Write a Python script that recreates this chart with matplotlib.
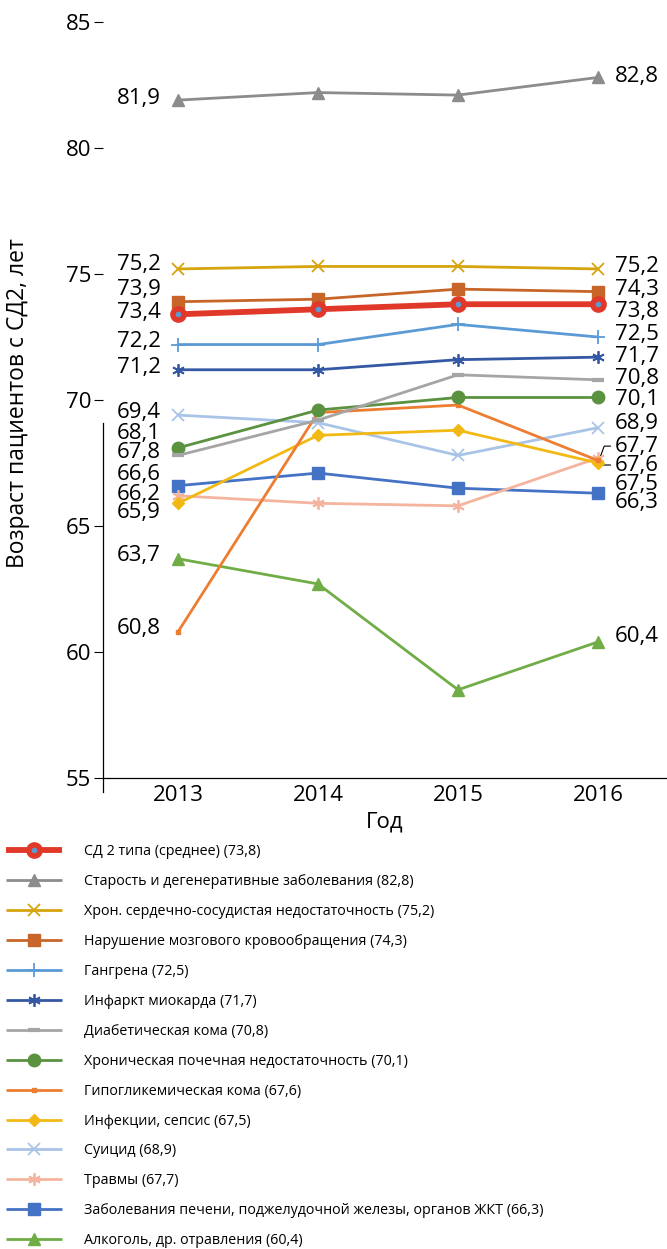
import matplotlib
matplotlib.use("Agg")
import matplotlib.pyplot as plt
from matplotlib.legend_handler import HandlerTuple

plt.rcParams['font.family'] = ['Open Sans', 'DejaVu Sans']

years = [2013, 2014, 2015, 2016]

names = [
    "СД 2 типа (среднее) (73,8)",
    "Старость и дегенеративные заболевания (82,8)",
    "Хрон. сердечно-сосудистая недостаточность (75,2)",
    "Нарушение мозгового кровообращения (74,3)",
    "Гангрена (72,5)",
    "Инфаркт миокарда (71,7)",
    "Диабетическая кома (70,8)",
    "Хроническая почечная недостаточность (70,1)",
    "Гипогликемическая кома (67,6)",
    "Инфекции, сепсис (67,5)",
    "Суицид (68,9)",
    "Травмы (67,7)",
    "Заболевания печени, поджелудочной железы, органов ЖКТ (66,3)",
    "Алкоголь, др. отравления (60,4)",
]

sd2 = [73.4, 73.6, 73.8, 73.8]
old_age = [81.9, 82.2, 82.1, 82.8]
chf = [75.2, 75.3, 75.3, 75.2]
stroke = [73.9, 74.0, 74.4, 74.3]
gangrene = [72.2, 72.2, 73.0, 72.5]
infarct = [71.2, 71.2, 71.6, 71.7]
diab_coma = [67.8, 69.2, 71.0, 70.8]
ckd = [68.1, 69.6, 70.1, 70.1]
hypo_coma = [60.8, 69.5, 69.8, 67.6]
infection = [65.9, 68.6, 68.8, 67.5]
suicide = [69.4, 69.1, 67.8, 68.9]
trauma = [66.2, 65.9, 65.8, 67.7]
liver = [66.6, 67.1, 66.5, 66.3]
alcohol = [63.7, 62.7, 58.5, 60.4]

series = [sd2, old_age, chf, stroke, gangrene, infarct, diab_coma, ckd,
          hypo_coma, infection, suicide, trauma, liver, alcohol]

# end-point label texts
left_labels = ["73,4", "81,9", "75,2", "73,9", "72,2", "71,2", "67,8", "68,1",
               "60,8", "65,9", "69,4", "66,2", "66,6", "63,7"]
right_labels = ["73,8", "82,8", "75,2", "74,3", "72,5", "71,7", "70,8", "70,1",
                "67,6", "67,5", "68,9", "67,7", "66,3", "60,4"]

# label vertical placement (layout, de-overlapped)
left_label_y = [73.49, 81.98, 75.36, 74.40, 72.34, 71.27, 67.90, 68.69,
                60.95, 65.52, 69.52, 66.26, 67.06, 63.81]
right_label_y = [73.53, 82.82, 75.28, 74.40, 72.58, 71.71, 70.87, 70.0,
                 67.42, 66.66, 69.05, 68.17, 65.92, 60.6]

colors = ["#e0392a", "#8c8c8c", "#d6a40c", "#c8662a", "#5b9bd5", "#3458a4",
          "#a5a5a5", "#5b9240", "#ed7d31", "#f2b915", "#a9c4e6", "#f4b49e",
          "#4472c4", "#70ad47"]
markers = ["o", "^", "x", "s", "+", (6, 2, 0), "_", "o", "s", "D", "x",
           (6, 2, 0), "s", "^"]
msizes = [11, 8, 9, 9, 10, 9, 9, 9, 3.5, 6, 9, 9, 9, 8]

W, H = 667, 1249
fig = plt.figure(figsize=(W / 100, H / 100), dpi=100)
ax = fig.add_axes([103 / W, 1 - 792 / H, 564 / W, 792 / H])

handles = []
for i in range(len(series) - 1, -1, -1):
    c = colors[i]
    lw = 4.2 if i == 0 else 2.0
    mk = markers[i]
    filled = mk not in ("x", "+", "_") and not isinstance(mk, tuple)
    ln, = ax.plot(years, series[i], color=c, lw=lw, marker=mk, ms=msizes[i],
                  mfc=c, mec=c, mew=1.3 if not filled else 1.0,
                  zorder=10 if i == 0 else 3 + (14 - i) * 0.1,
                  solid_capstyle='butt')
    if mk == "_":
        ln.set_markeredgewidth(3)
    if i == 0:
        dot, = ax.plot(years, series[i], ls='none', marker='o', ms=3,
                       mfc="#5b9bd5", mec="#5b9bd5", zorder=11)
        handles.insert(0, (ln, dot))
    else:
        handles.insert(0, ln)

LFS = 16
for i in range(len(series)):
    ax.text(years[0] - 0.125, left_label_y[i], left_labels[i], ha='right',
            va='center', fontsize=LFS, color='black')
    if right_labels[i] in ("67,7", "67,6"):
        angB = 70 if right_label_y[i] > 67.7 else 110
        ax.annotate(right_labels[i], xy=(years[-1] + 0.015, 67.72),
                    xytext=(years[-1] + 0.12, right_label_y[i]),
                    ha='left', va='center', fontsize=LFS,
                    arrowprops=dict(arrowstyle='-', lw=0.8, color='black',
                                    shrinkA=1, shrinkB=1, relpos=(0, 0.5),
                                    connectionstyle='angle,angleA=0,angleB=%d,rad=0' % angB))
    else:
        ax.text(years[-1] + 0.12, right_label_y[i], right_labels[i], ha='left',
                va='center', fontsize=LFS, color='black')

ax.set_xlim(2013 - 0.536, 2016 + 0.493)
ax.set_ylim(54.444, 85.873)
ax.set_xticks(years)
ax.set_xticklabels([str(y) for y in years])
ax.set_yticks([55, 60, 65, 70, 75, 80, 85])

for s in ("top", "right"):
    ax.spines[s].set_visible(False)
ax.spines['left'].set_bounds(54.444, 69.1)
ax.spines['left'].set_linewidth(0.9)
ax.spines['bottom'].set_position(('data', 55))
ax.spines['bottom'].set_linewidth(0.9)
ax.tick_params(axis='y', direction='out', length=6.5, width=0.8,
               labelsize=16, pad=2)
ax.tick_params(axis='x', length=0, labelsize=16, pad=5)
ax.patch.set_alpha(0)

fig.text(18 / W, 1 - 403 / H, "Возраст пациентов с СД2, лет", rotation=90,
         ha='center', va='center', fontsize=16.5)
fig.text(385 / W, 1 - 822 / H, "Год", ha='center', va='center', fontsize=16)

fig.legend(handles, names, loc='upper left',
           bbox_to_anchor=(6 / W, 1 - 844 / H), frameon=False, fontsize=10.3,
           handlelength=3.9, handletextpad=1.55, labelspacing=1.045,
           borderpad=0, borderaxespad=0,
           handler_map={tuple: HandlerTuple(ndivide=1, pad=0)})

fig.savefig("out.png", dpi=100)
